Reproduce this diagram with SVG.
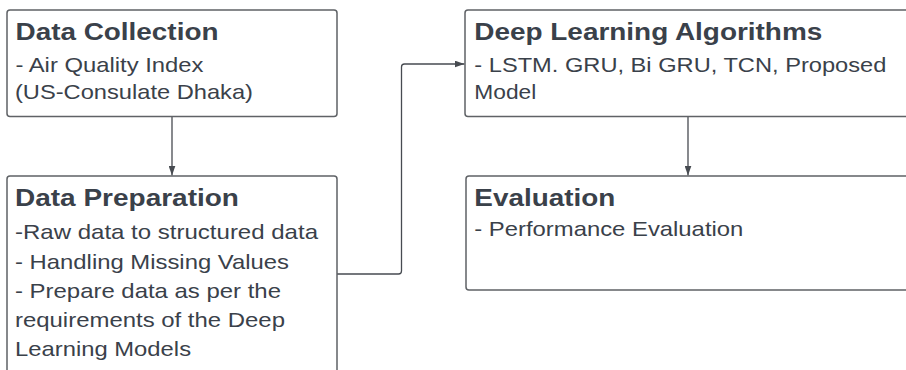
<svg xmlns="http://www.w3.org/2000/svg" width="906" height="370" viewBox="0 0 906 370">
<defs>
<style>
.box{fill:#ffffff;stroke:#5f6266;stroke-width:1.5}
.t{font-family:"Liberation Sans",Arial,sans-serif;font-size:24px;font-weight:bold;fill:#3a414a}
.b{font-family:"Liberation Sans",Arial,sans-serif;font-size:20px;fill:#3a414a}
.c{fill:none;stroke:#474b51;stroke-width:1.3}
</style>
<marker id="ah" viewBox="0 0 10 7" refX="10" refY="3.5" markerWidth="10" markerHeight="7" markerUnits="userSpaceOnUse" orient="auto">
<path d="M0,0 L10,3.5 L0,7 z" fill="#474b51"/>
</marker>
</defs>
<rect width="906" height="370" fill="#ffffff"/>
<g id="connectors">
<path class="c" d="M172,117 V175.5" marker-end="url(#ah)"/>
<path class="c" d="M688,117 V175.5" marker-end="url(#ah)"/>
<path class="c" d="M337,274 H398.5 Q401.5,274 401.5,271 V67 Q401.5,64 404.5,64 H464.5" marker-end="url(#ah)"/>
</g>
<g id="data-collection">
<rect class="box" x="7" y="10" width="330" height="106.5" rx="3"/>
<g transform="scale(1.18,1)">
<text class="t" x="13.14" y="40.5" textLength="172" lengthAdjust="spacingAndGlyphs">Data Collection</text>
<text class="b" x="13.14" y="72" textLength="159.3" lengthAdjust="spacingAndGlyphs">- Air Quality Index</text>
<text class="b" x="12.71" y="99.5" textLength="201.7" lengthAdjust="spacingAndGlyphs">(US-Consulate Dhaka)</text>
</g>
</g>
<g id="data-preparation">
<rect class="box" x="7" y="176" width="330" height="220" rx="3"/>
<g transform="scale(1.18,1)">
<text class="t" x="12.71" y="206.5" textLength="189.8" lengthAdjust="spacingAndGlyphs">Data Preparation</text>
<text class="b" x="12.71" y="239.5" textLength="256.8" lengthAdjust="spacingAndGlyphs">-Raw data to structured data</text>
<text class="b" x="12.71" y="269" textLength="232.2" lengthAdjust="spacingAndGlyphs">- Handling Missing Values</text>
<text class="b" x="12.71" y="298" textLength="225.4" lengthAdjust="spacingAndGlyphs">- Prepare data as per the</text>
<text class="b" x="12.71" y="327" textLength="228.8" lengthAdjust="spacingAndGlyphs">requirements of the Deep</text>
<text class="b" x="12.71" y="356" textLength="149.2" lengthAdjust="spacingAndGlyphs">Learning Models</text>
</g>
</g>
<g id="deep-learning">
<rect class="box" x="465" y="10" width="460" height="106.5" rx="3"/>
<g transform="scale(1.18,1)">
<text class="t" x="401.95" y="40" textLength="294.9" lengthAdjust="spacingAndGlyphs">Deep Learning Algorithms</text>
<text class="b" x="401.95" y="72" textLength="349.2" lengthAdjust="spacingAndGlyphs">- LSTM. GRU, Bi GRU, TCN, Proposed</text>
<text class="b" x="401.95" y="99.5" textLength="52.5" lengthAdjust="spacingAndGlyphs">Model</text>
</g>
</g>
<g id="evaluation">
<rect class="box" x="466" y="176" width="460" height="114" rx="3"/>
<g transform="scale(1.18,1)">
<text class="t" x="401.95" y="206" textLength="119.5" lengthAdjust="spacingAndGlyphs">Evaluation</text>
<text class="b" x="401.95" y="236.5" textLength="228" lengthAdjust="spacingAndGlyphs">- Performance Evaluation</text>
</g>
</g>
</svg>
